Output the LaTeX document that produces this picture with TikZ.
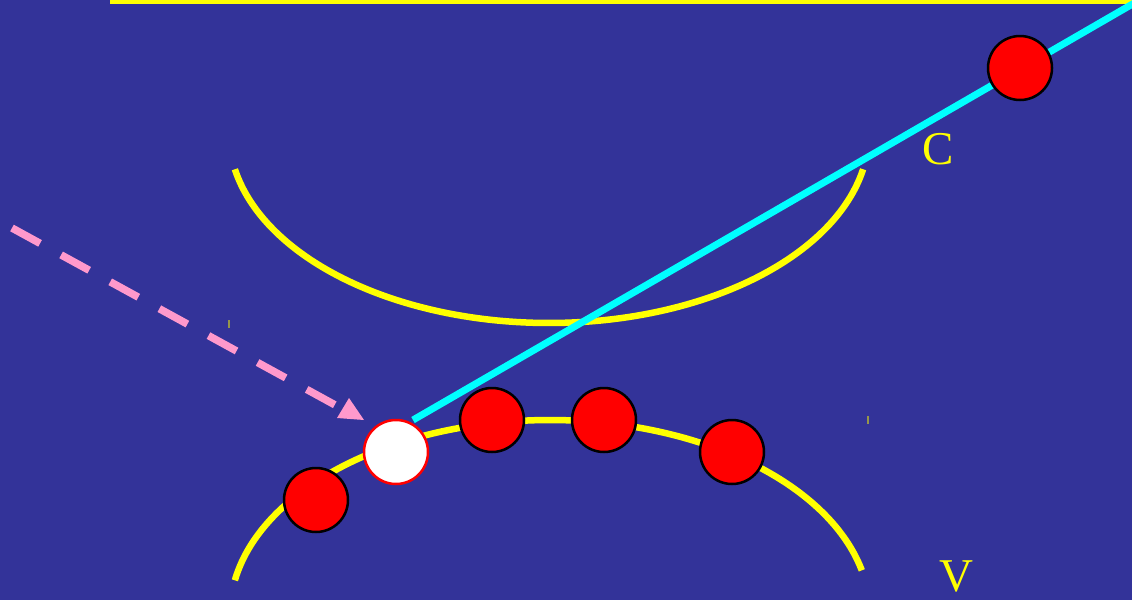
\documentclass[tikz,border=0pt]{standalone}
\usepackage{fontspec}
\setmainfont{Liberation Serif}
\definecolor{bg}{RGB}{51,51,153}
\definecolor{pinkc}{RGB}{255,153,204}
\definecolor{tickc}{RGB}{150,150,75}
\definecolor{cyanc}{RGB}{0,255,255}
\definecolor{yellowc}{RGB}{255,255,0}
\begin{document}
\begin{tikzpicture}[x=1pt,y=-1pt,
  arcline/.style={draw=yellowc, line width=6.5pt},
  cyanline/.style={draw=cyanc, line width=7pt},
  dashline/.style={draw=pinkc, line width=7.5pt, dash pattern=on 32pt off 24pt},
  redball/.style={circle, fill=red, draw=black, line width=2.5pt, minimum size=64pt, inner sep=0pt},
  whiteball/.style={circle, fill=white, draw=red, line width=2.5pt, minimum size=64pt, inner sep=0pt},
  lbl/.style={text=yellowc, font=\fontsize{47}{47}\selectfont, inner sep=0pt, anchor=base}]
\fill[bg] (0,0) rectangle (1132,600);
\useasboundingbox (0,0) rectangle (1132,600);
% top yellow line
\coordinate (t1) at (110,2);
\coordinate (t2) at (1132,2);
\draw[draw=yellowc, line width=4.5pt] (t1) -- (t2);
% arcs
\draw[arcline] plot[domain=169:11, samples=90, smooth] ({549+320*cos(\x)},{133+190*sin(\x)});
\draw[arcline] plot[domain=170:13, samples=90, smooth] ({550+320*cos(\x)},{614-194*sin(\x)});
% small marks
\fill[tickc] (228,320) rectangle (230,328);
\fill[tickc] (867,416) rectangle (869,424);
% cyan line
\coordinate (cs) at (413,420);
\coordinate (ce) at (1136,2);
\draw[cyanline] (cs) -- (ce);
% pink dashed arrow
\coordinate (ps) at (12,228);
\coordinate (pe) at (337,406);
\draw[dashline] (ps) -- (pe);
\fill[pinkc] (337,418) -- (349,398) -- (364,420) -- cycle;
% balls
\node[redball] (r1) at (316,500) {};
\node[whiteball] (w) at (396,452) {};
\node[redball] (r2) at (492,420) {};
\node[redball] (r3) at (604,420) {};
\node[redball] (r4) at (732,452) {};
\node[redball] (r5) at (1020,68) {};
% labels
\node[lbl] (c) at (938,164) {C};
\node[lbl] (v) at (956,591) {V};
\end{tikzpicture}
\end{document}
